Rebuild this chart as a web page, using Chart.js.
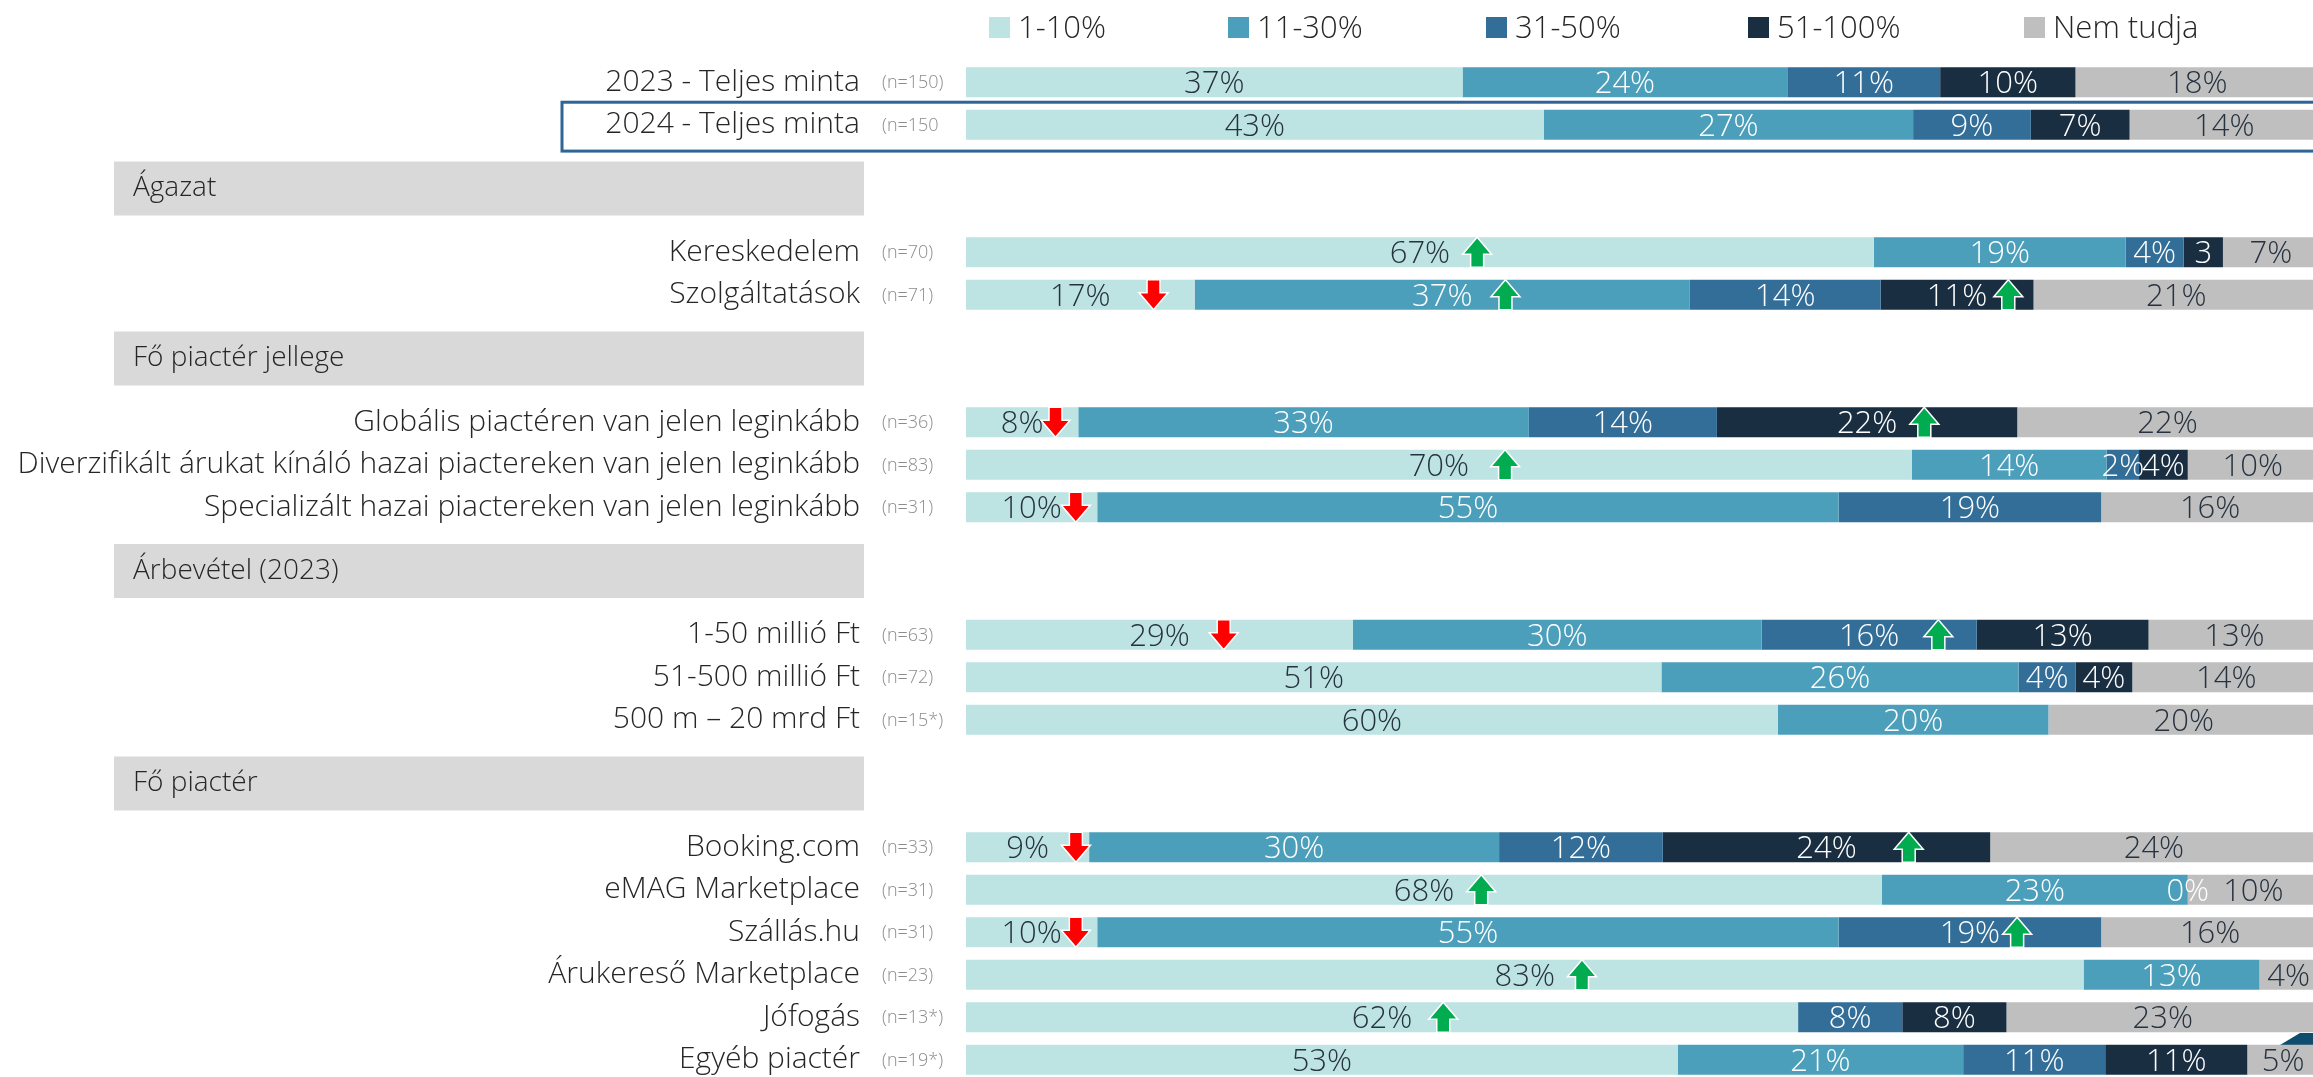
<!DOCTYPE html>
<html lang="hu">
<head>
<meta charset="utf-8">
<title>Piactér – megoszlás</title>
<script src="https://cdn.jsdelivr.net/npm/chart.js@4.4.1/dist/chart.umd.min.js"></script>
<style>
    html, body { margin: 0; padding: 0; background: #ffffff; overflow: hidden; }
    #wrap { position: relative; width: 2320px; height: 1082px; }
</style>
</head>
<body>
<div id="wrap"><canvas id="chart"></canvas></div>
<script>

/* =========================================================
   1. DATA
========================================================= */

const seriesNames = ['1-10%', '11-30%', '31-50%', '51-100%', 'Nem tudja'];

const rowLabels = [
    '2023 - Teljes minta', '2024 - Teljes minta', '', '',
    'Kereskedelem', 'Szolgáltatások', '', '',
    'Globális piactéren van jelen leginkább',
    'Diverzifikált árukat kínáló hazai piactereken van jelen leginkább',
    'Specializált hazai piactereken van jelen leginkább', '', '',
    '1-50 millió Ft', '51-500 millió Ft', '500 m – 20 mrd Ft', '', '',
    'Booking.com', 'eMAG Marketplace', 'Szállás.hu', 'Árukereső Marketplace', 'Jófogás', 'Egyéb piactér'
];

const sampleSizes = [
    '(n=150)', '(n=150', '', '',
    '(n=70)', '(n=71)', '', '',
    '(n=36)', '(n=83)', '(n=31)', '', '',
    '(n=63)', '(n=72)', '(n=15*)', '', '',
    '(n=33)', '(n=31)', '(n=31)', '(n=23)', '(n=13*)', '(n=19*)'
];

const groupHeaders = [
    null, null, 'Ágazat', null,
    null, null, 'Fő piactér jellege', null,
    null, null, null, 'Árbevétel (2023)', null,
    null, null, null, 'Fő piactér', null,
    null, null, null, null, null, null
];

const share1to10 = [36.7, 42.7, null, null, 67.1, 16.9, null, null, 8.3, 69.9, 9.7, null, null, 28.6, 51.4, 60.0, null, null, 9.1, 67.7, 9.7, 82.6, 61.5, 52.6];
const share11to30 = [24.0, 27.3, null, null, 18.6, 36.6, null, null, 33.3, 14.4, 54.8, null, null, 30.2, 26.4, 20.0, null, null, 30.3, 22.6, 54.8, 13.0, null, 21.1];
const share31to50 = [11.3, 8.7, null, null, 4.3, 14.1, null, null, 13.9, 2.4, 19.4, null, null, 15.9, 4.2, null, null, null, 12.1, 0, 19.4, null, 7.7, 10.5];
const share51to100 = [10.0, 7.3, null, null, 2.9, 11.3, null, null, 22.2, 3.6, null, null, null, 12.7, 4.2, null, null, null, 24.2, null, null, null, 7.7, 10.5];
const shareUnknown = [18.0, 14.0, null, null, 7.1, 21.1, null, null, 22.2, 9.6, 16.1, null, null, 12.7, 13.9, 20.0, null, null, 24.2, 9.7, 16.1, 4.3, 23.1, 5.3];

// [row, series, direction] – significant change markers
const changeMarks = [
    [4, 0, 'up'], [5, 0, 'down'], [5, 1, 'up'], [5, 3, 'up'],
    [8, 0, 'down'], [8, 3, 'up'], [9, 0, 'up'], [10, 0, 'down'],
    [13, 0, 'down'], [13, 2, 'up'],
    [18, 0, 'down'], [18, 3, 'up'], [19, 0, 'up'], [20, 0, 'down'], [20, 2, 'up'],
    [21, 0, 'up'], [22, 0, 'up']
];

// labels cut short in the original (no room for the % sign)
const clippedLabels = [[4, 3, '3']];

/* =========================================================
   2. STYLE
========================================================= */

const FONT = '"Open Sans", Lato, sans-serif';
const seriesColors = ['#bde3e3', '#4b9fbb', '#336e99', '#1a2e42', '#bfbfbf'];
const labelColors = ['#26323f', '#ffffff', '#ffffff', '#ffffff', '#26323f'];
const legendX = [989, 1228, 1486, 1748, 2024];
const textColor = '#262626';

// extra horizontal gap of each arrow (same order as changeMarks), px
const markNudge = [0, 16, 6, -6, -15, 0, 9, -13, 7, 12, 0, 25, 0, -13, -10, 0, 4];

/* =========================================================
   3. PLUGINS
========================================================= */

function drawArrow(ctx, cx, top, bottom, dir) {
    const headW = 29, shaftW = 13, headH = 17;

    ctx.save();
    ctx.beginPath();
    if (dir === 'up') {
        ctx.moveTo(cx, top);
        ctx.lineTo(cx + headW / 2, top + headH);
        ctx.lineTo(cx + shaftW / 2, top + headH);
        ctx.lineTo(cx + shaftW / 2, bottom);
        ctx.lineTo(cx - shaftW / 2, bottom);
        ctx.lineTo(cx - shaftW / 2, top + headH);
        ctx.lineTo(cx - headW / 2, top + headH);
    } else {
        ctx.moveTo(cx, bottom);
        ctx.lineTo(cx + headW / 2, bottom - headH);
        ctx.lineTo(cx + shaftW / 2, bottom - headH);
        ctx.lineTo(cx + shaftW / 2, top);
        ctx.lineTo(cx - shaftW / 2, top);
        ctx.lineTo(cx - shaftW / 2, bottom - headH);
        ctx.lineTo(cx - headW / 2, bottom - headH);
    }
    ctx.closePath();
    ctx.fillStyle = dir === 'up' ? '#00ac4f' : '#ff0000';
    ctx.fill();
    ctx.lineWidth = 1.5;
    ctx.strokeStyle = '#ffffff';
    ctx.stroke();
    ctx.restore();
}

const backdropPlugin = {
    id: 'backdrop',
    beforeDatasetsDraw(chart) {
        const ctx = chart.ctx;
        const y = chart.scales.y;
        const step = y.getPixelForValue(1) - y.getPixelForValue(0);

        ctx.save();

        // group header boxes
        groupHeaders.forEach((title, i) => {
            if (!title) return;
            const cy = y.getPixelForValue(i + 0.5);
            const half = step * 0.635;
            ctx.fillStyle = '#d9d9d9';
            ctx.fillRect(114, cy - half, 750, half * 2);
            ctx.fillStyle = textColor;
            ctx.font = `300 28px ${FONT}`;
            ctx.textAlign = 'left';
            ctx.textBaseline = 'middle';
            ctx.fillText(title, 133, cy);
        });

        // small corner shape of the slide
        ctx.fillStyle = '#0e4d6e';
        ctx.beginPath();
        ctx.moveTo(2280, 1045);
        ctx.lineTo(2300, 1033);
        ctx.lineTo(2320, 1033);
        ctx.lineTo(2320, 1045);
        ctx.closePath();
        ctx.fill();

        ctx.restore();
    }
};

const annotationPlugin = {
    id: 'annotations',
    afterDatasetsDraw(chart) {
        const ctx = chart.ctx;
        const y = chart.scales.y;
        const labelRight = {};

        ctx.save();
        ctx.font = `300 31px ${FONT}`;
        ctx.textBaseline = 'middle';
        ctx.textAlign = 'center';

        // segment value labels
        chart.data.datasets.forEach((ds, s) => {
            const meta = chart.getDatasetMeta(s);
            meta.data.forEach((bar, r) => {
                const v = ds.data[r];
                if (v === null || v === undefined) return;
                let text = Math.round(v) + '%';
                clippedLabels.forEach(c => {
                    if (c[0] === r && c[1] === s) text = c[2];
                });
                const cx = (bar.x + bar.base) / 2;
                ctx.fillStyle = labelColors[s];
                ctx.fillText(text, cx, bar.y + 2);
                labelRight[r + '-' + s] = { x: cx + ctx.measureText(text).width / 2, bar };
            });
        });

        // change arrows
        changeMarks.forEach(([r, s, dir], k) => {
            const info = labelRight[r + '-' + s];
            if (!info) return;
            const top = info.bar.y - info.bar.height / 2;
            const bottom = info.bar.y + info.bar.height / 2;
            drawArrow(ctx, info.x + 27 + markNudge[k], top, bottom, dir);
        });

        // sample sizes
        ctx.font = `300 18px ${FONT}`;
        ctx.fillStyle = '#8c8c8c';
        ctx.textAlign = 'left';
        sampleSizes.forEach((n, i) => {
            if (n) ctx.fillText(n, 882, y.getPixelForValue(i) + 1);
        });

        // frame around the 2024 row
        ctx.strokeStyle = '#2f6596';
        ctx.lineWidth = 3;
        ctx.strokeRect(562, y.getPixelForValue(0.47), 1800, y.getPixelForValue(1.62) - y.getPixelForValue(0.47));

        // legend
        ctx.font = `300 31px ${FONT}`;
        seriesNames.forEach((name, s) => {
            ctx.fillStyle = seriesColors[s];
            ctx.fillRect(legendX[s], 17, 21, 21);
            ctx.fillStyle = textColor;
            ctx.fillText(name, legendX[s] + 29, 29);
        });

        ctx.restore();
    }
};

/* =========================================================
   4. CHART
========================================================= */

const seriesData = [share1to10, share11to30, share31to50, share51to100, shareUnknown];

new Chart(document.getElementById('chart'), {
    type: 'bar',
    data: {
        labels: rowLabels,
        datasets: seriesNames.map((name, s) => ({
            label: name,
            data: seriesData[s],
            backgroundColor: seriesColors[s],
            borderWidth: 0,
            barPercentage: 0.71,
            categoryPercentage: 1
        }))
    },
    options: {
        indexAxis: 'y',
        responsive: true,
        maintainAspectRatio: false,
        animation: false,
        layout: { padding: { top: 61, bottom: 1, right: 1, left: 0 } },
        scales: {
            x: {
                stacked: true,
                display: false,
                min: 0,
                max: 100
            },
            y: {
                stacked: true,
                grid: { display: false, drawTicks: false },
                border: { display: false },
                afterFit(scale) {
                    // fixed label column; keep the tick gap from padding the rows
                    scale.width = 966;
                    scale.paddingTop = 0;
                    scale.paddingBottom = 0;
                },
                ticks: {
                    autoSkip: false,
                    padding: 106,
                    color: textColor,
                    font: { family: FONT, size: 30, weight: 300 }
                }
            }
        },
        plugins: {
            legend: { display: false },
            tooltip: { enabled: false }
        }
    },
    plugins: [backdropPlugin, annotationPlugin]
});
</script>
</body>
</html>
